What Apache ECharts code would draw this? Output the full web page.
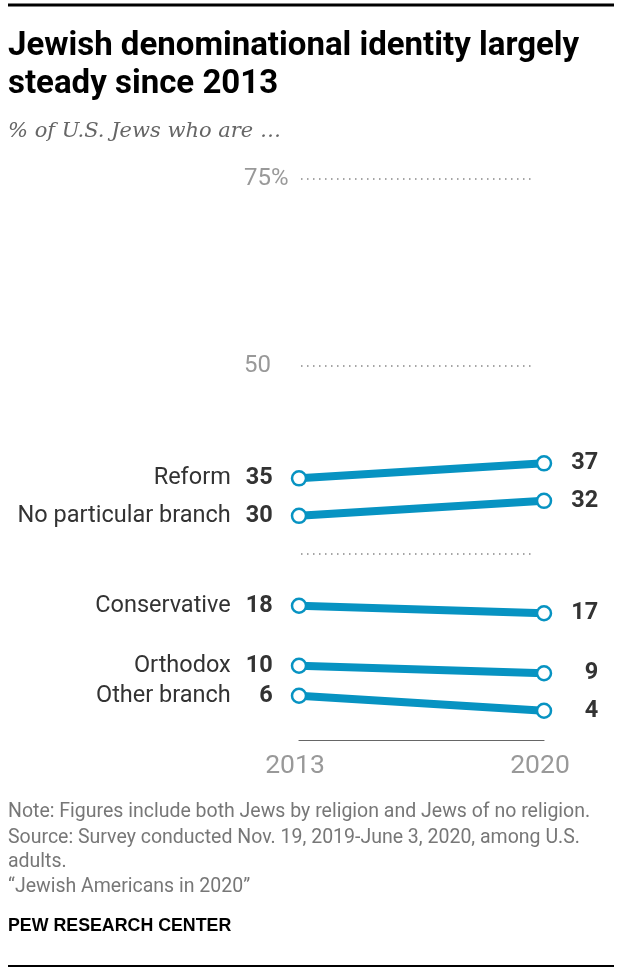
<!DOCTYPE html>
<html>
<head>
<meta charset="utf-8">
<script src="https://cdn.jsdelivr.net/npm/echarts@6/dist/echarts.min.js"></script>
<style>
html,body{margin:0;padding:0;background:#fff;}
#c{width:622px;height:976px;}
</style>
</head>
<body>
<div id="c"></div>
<script>
var years = ['2013', '2020'];
var branches = ['Reform', 'No particular branch', 'Conservative', 'Orthodox', 'Other branch'];
var values2013 = [35, 30, 18, 10, 6];
var values2020 = [37, 32, 17, 9, 4];
var gridTicks = [25, 50, 75];
var yTickLabels = {75: '75%', 50: '50'};

var BLUE = '#0793c2';
var chart = echarts.init(document.getElementById('c'), null, {renderer: 'canvas'});

var series = branches.map(function (name, i) {
  return {
    type: 'line',
    name: name,
    xAxisIndex: 1,
    yAxisIndex: 1,
    data: [
      {
        value: values2013[i],
        label: {
          show: true,
          position: 'left',
          distance: 18,
          formatter: '{n|' + name + '}{v|' + values2013[i] + '}',
          rich: {
            n: {fontFamily: 'Roboto', fontSize: 23.5, color: '#333', padding: [0, 12, 0, 0]},
            v: {fontFamily: 'Roboto', fontWeight: 'bold', fontSize: 23.5, color: '#333', width: 30, align: 'right'}
          }
        }
      },
      {
        value: values2020[i],
        label: {
          show: true,
          position: 'right',
          distance: 16,
          formatter: '{v|' + values2020[i] + '}',
          rich: {
            v: {fontFamily: 'Roboto', fontWeight: 'bold', fontSize: 23.5, color: '#333', width: 30, align: 'right'}
          }
        }
      }
    ],
    symbol: 'circle',
    symbolSize: 14,
    showAllSymbol: true,
    lineStyle: {color: BLUE, width: 8},
    itemStyle: {color: '#fff', borderColor: BLUE, borderWidth: 2.5},
    emphasis: {disabled: true},
    silent: true,
    animation: false,
    z: 3
  };
});

var footer = [
  {t: 'Note: Figures include both Jews by religion and Jews of no religion.', y: 812},
  {t: 'Source: Survey conducted Nov. 19, 2019-June 3, 2020, among U.S.', y: 838},
  {t: 'adults.', y: 862},
  {t: '\u201cJewish Americans in 2020\u201d', y: 887}
];

var graphics = [
  {type: 'line', shape: {x1: 8, y1: 5, x2: 614, y2: 5}, style: {stroke: '#000', lineWidth: 3}},
  {type: 'text', x: 8, y: 47, style: {text: 'Jewish denominational identity largely', font: 'bold 33px Roboto, sans-serif', fill: '#000', verticalAlign: 'middle'}},
  {type: 'text', x: 8, y: 85, style: {text: 'steady since 2013', font: 'bold 33px Roboto, sans-serif', fill: '#000', verticalAlign: 'middle'}},
  {type: 'text', x: 8, y: 132, style: {text: '% of U.S. Jews who are \u2026', font: 'italic 21px "DejaVu Serif", serif', fill: '#666', verticalAlign: 'middle'}},
  {type: 'text', x: 8, y: 926, style: {text: 'PEW RESEARCH CENTER', font: 'bold 17.8px "Liberation Sans", Roboto, sans-serif', fill: '#000', verticalAlign: 'middle'}},
  {type: 'line', shape: {x1: 8, y1: 966, x2: 614, y2: 966}, style: {stroke: '#000', lineWidth: 2}}
];
footer.forEach(function (f) {
  graphics.push({type: 'text', x: 8, y: f.y, style: {text: f.t, font: '19.5px Roboto, sans-serif', fill: '#777', verticalAlign: 'middle'}});
});

chart.setOption({
  animation: false,
  backgroundColor: '#fff',
  grid: [
    {left: 301, right: 91, top: 178.5, bottom: 422.7},
    {left: 299, right: 78, top: 178.5, bottom: 235.3}
  ],
  xAxis: [
    {gridIndex: 0, type: 'value', show: false, min: 0, max: 1},
    {
      gridIndex: 1, type: 'category', data: years, boundaryGap: false,
      axisLine: {show: true, lineStyle: {color: '#666', width: 1.2}},
      axisTick: {show: false},
      axisLabel: {color: '#999', fontFamily: 'Roboto', fontSize: 26.5, margin: 12, padding: [0, 8, 0, 0]},
      splitLine: {show: false}
    }
  ],
  yAxis: [
    {
      gridIndex: 0, type: 'value', min: gridTicks[0], max: gridTicks[gridTicks.length - 1], interval: 25,
      axisLine: {show: false}, axisTick: {show: false},
      axisLabel: {
        align: 'left', margin: 57, color: '#999', fontFamily: 'Roboto', fontSize: 24,
        formatter: function (v) { return yTickLabels[v] || ''; }
      },
      splitLine: {show: true, lineStyle: {color: '#888', width: 1.5, type: [1.5, 4.5]}}
    },
    {gridIndex: 1, type: 'value', min: 0, max: 75, show: false}
  ],
  graphic: graphics,
  series: series
});
</script>
</body>
</html>
